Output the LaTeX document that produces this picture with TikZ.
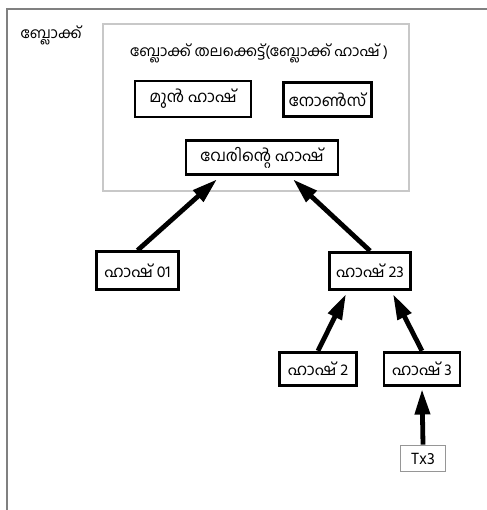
\documentclass[tikz,border=0pt]{standalone}
\usepackage{fontspec}
\newfontfamily\mlfont[Script=Malayalam]{Hind Kochi}
\usetikzlibrary{arrows.meta,calc}

\tikzset{
  hashbox/.style={draw=black, line width=2.2pt, fill=white, inner sep=0.75pt, font=\mlfont\fontsize{12}{14}\selectfont},
  txbox/.style={draw={rgb, 255:red, 150; green, 150; blue, 150}, line width=0.8pt, fill=white, inner sep=0.75pt, font=\mlfont\fontsize{12.5}{14}\selectfont},
  plain/.style={inner sep=0.75pt, font=\mlfont\fontsize{11.2}{13}\selectfont},
  link/.style={line width=3.6pt, -{Triangle[length=19pt,width=11pt]}, shorten >=0pt},
}

\begin{document}
\begin{tikzpicture}[x=0.75pt,y=0.75pt,yscale=-1,xscale=1]
\useasboundingbox (0,0) rectangle (486,510);

%Outer frame (block)
\draw [color={rgb, 255:red, 128; green, 128; blue, 128 }, line width=1.5pt] (6.5,512) -- (6.5,9) -- (488,9) ;
%Header rectangle
\draw [color={rgb, 255:red, 200; green, 200; blue, 200 }, line width=1pt] (103,24) rectangle (409,191) ;

% Text Node
\draw (51,35) node [plain] (blk) {ബ്ലോക്ക്};
% Text Node
\draw (259,53) node [plain] (hdr) {ബ്ലോക്ക് തലക്കെട്ട്(ബ്ലോക്ക് ഹാഷ് )};
% Text Node
\draw (193,99) node [hashbox, minimum width=87pt, minimum height=27pt] (prevh) {മുൻ ഹാഷ്};
% Text Node
\draw (327.5,99.5) node [hashbox, minimum width=66pt, minimum height=26pt] (nonce) {നോൺസ്};
% Text Node
\draw (262,157.5) node [hashbox, minimum width=114pt, minimum height=26pt] (vroot) {വേരിന്റെ ഹാഷ്};
% Text Node
\draw (137.5,270.5) node [hashbox, minimum width=62pt, minimum height=28pt] (h01) {ഹാഷ് 01};
% Text Node
\draw (370,271) node [hashbox, minimum width=61pt, minimum height=28pt] (h23) {ഹാഷ് 23};
% Text Node
\draw (318,369) node [hashbox, minimum width=58pt, minimum height=25pt] (h2) {ഹാഷ് 2};
% Text Node
\draw (422,369) node [hashbox, minimum width=57pt, minimum height=25pt] (h3) {ഹാഷ് 3};
% Text Node
\draw (423,458.5) node [txbox, minimum width=34pt, minimum height=20pt] (tx3) {Tx3};

%Straight Lines
\draw [link] (h01.north) -- ($(vroot.south)+(-45,3)$) ;
%Straight Lines
\draw [link] (h23.north) -- ($(vroot.south)+(31,3)$) ;
%Straight Lines
\draw [link] (h2.north) -- ($(h23.south)+(-24,3)$) ;
%Straight Lines
\draw [link] (h3.north) -- ($(h23.south)+(23,3)$) ;
%Straight Lines
\draw [link] (tx3.north) -- ($(h3.south)+(0,2)$) ;

\end{tikzpicture}
\end{document}
